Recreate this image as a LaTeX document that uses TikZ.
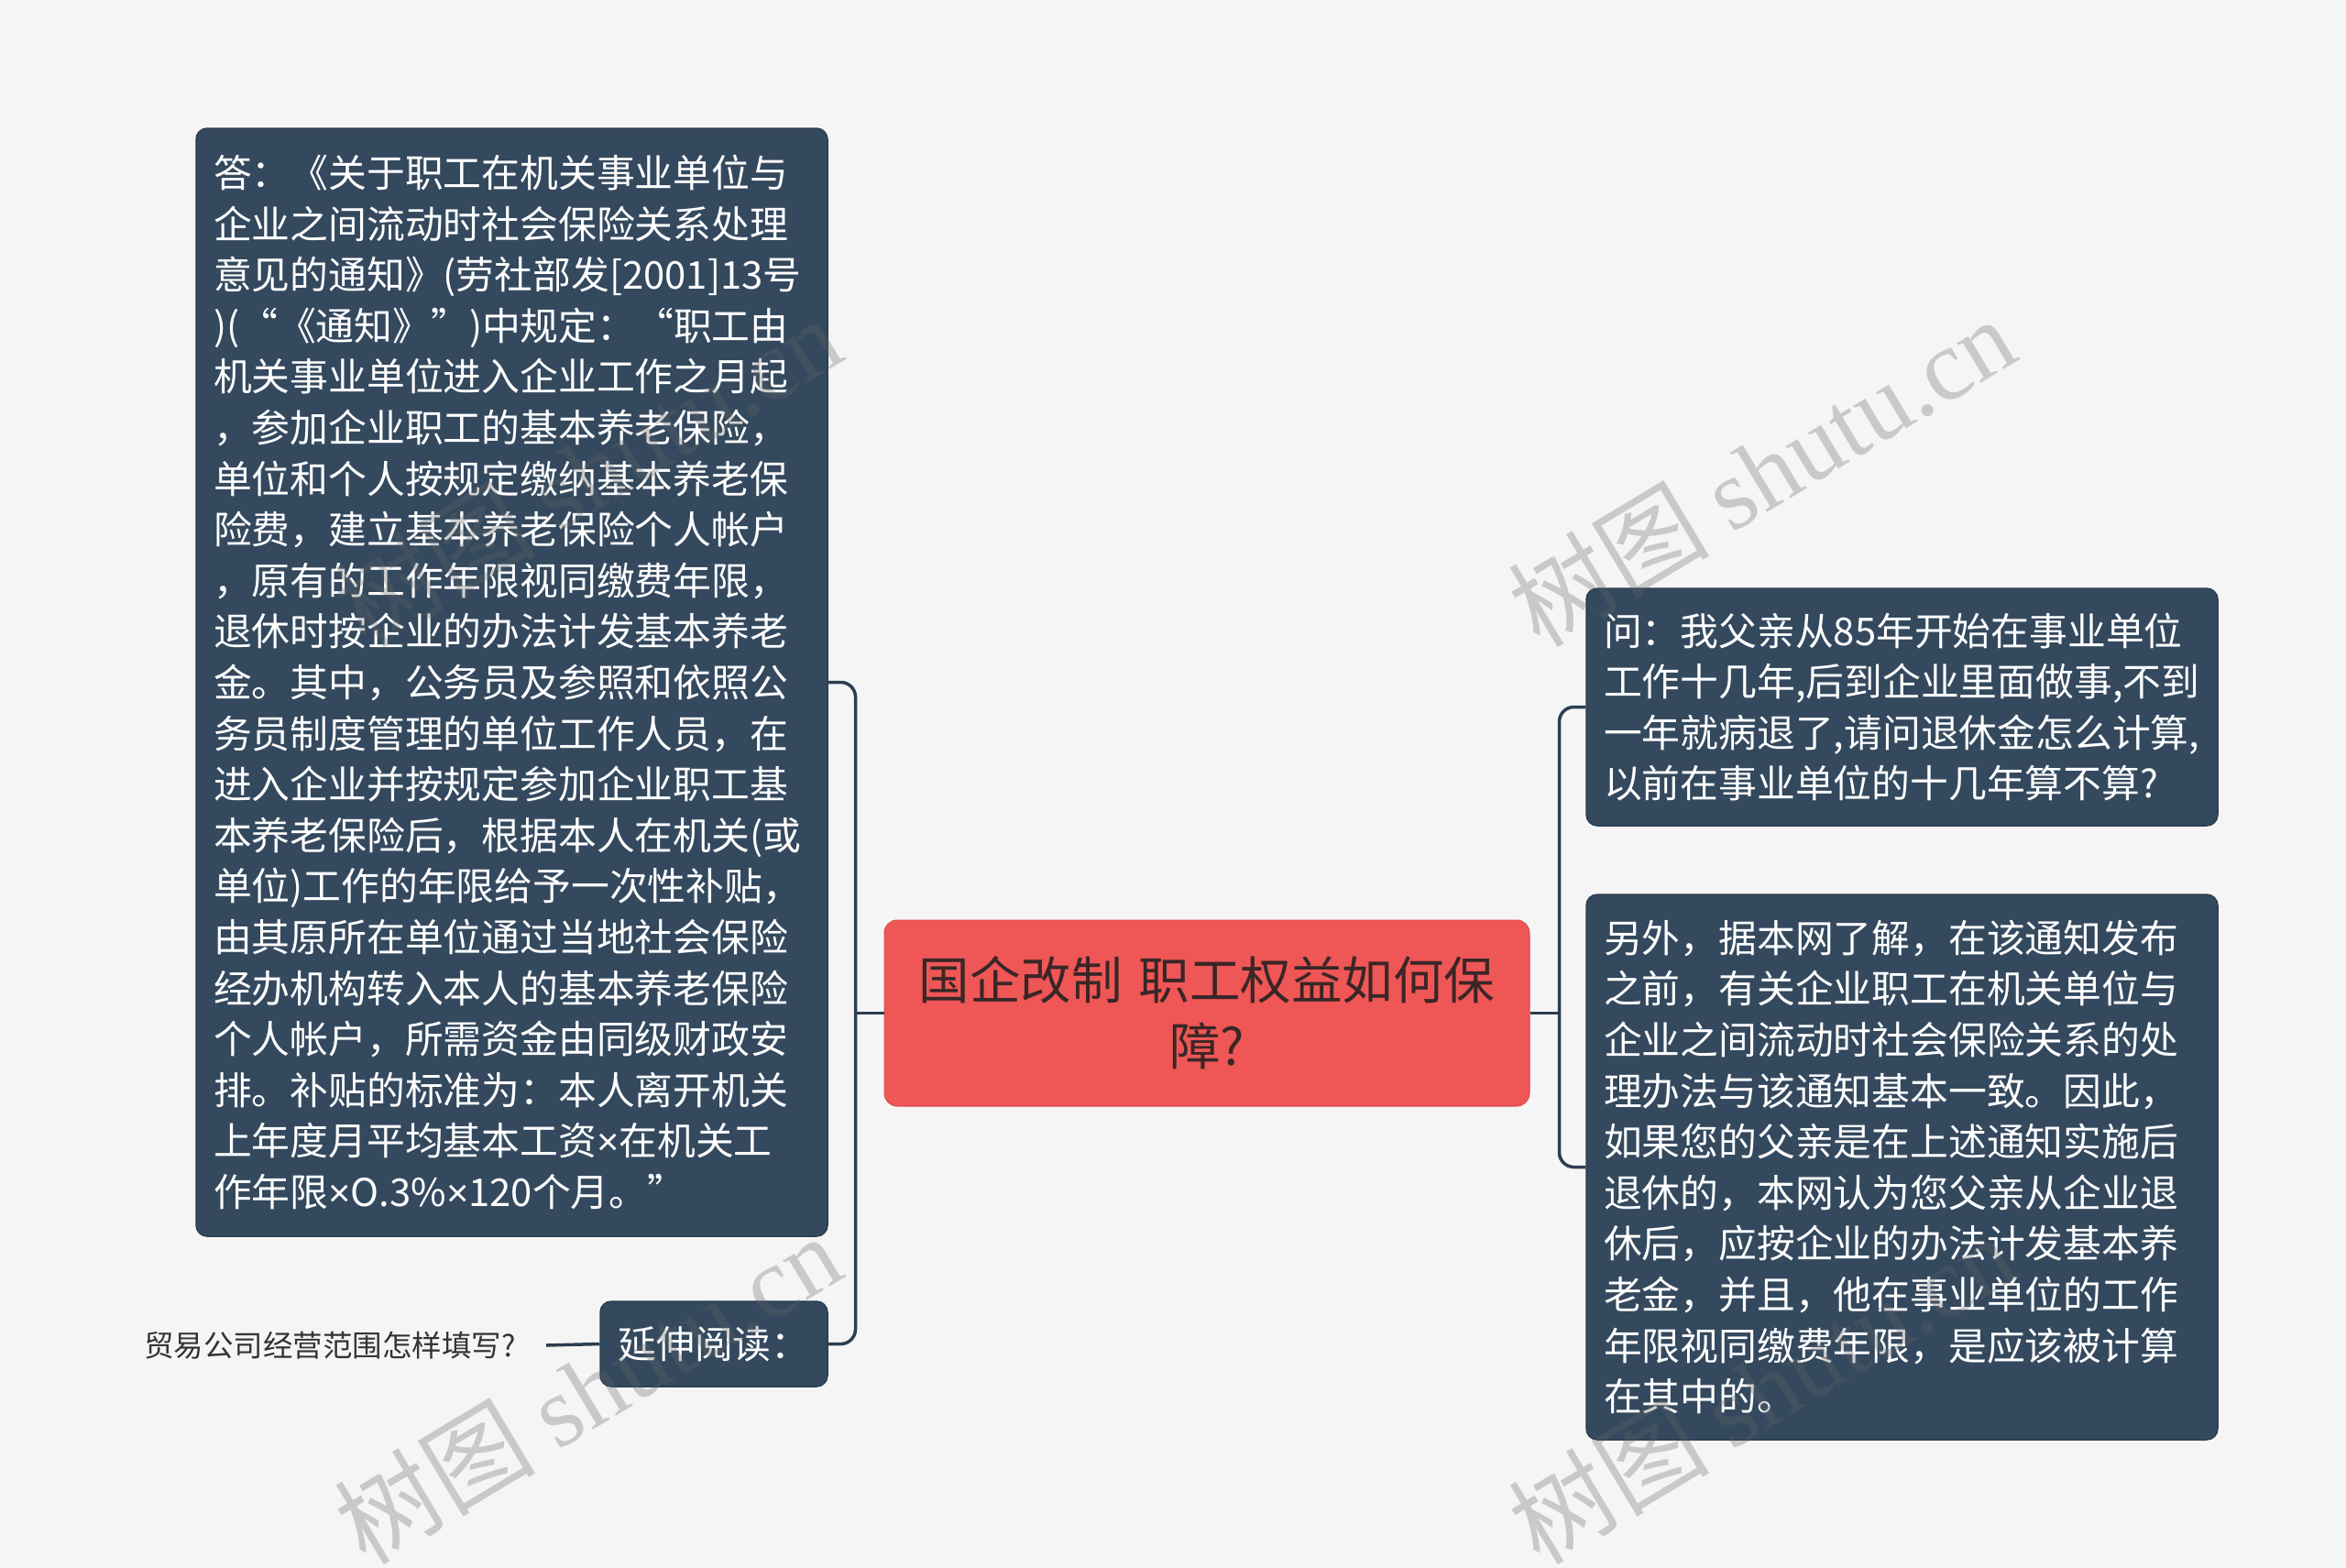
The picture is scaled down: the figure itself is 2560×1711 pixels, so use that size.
\documentclass[tikz,border=0pt]{standalone}
\usepackage{fontspec}
\setmainfont{Noto Sans CJK SC}
\newfontfamily\wmfont{Liberation Serif}
\newfontfamily\cjkfont{Noto Sans CJK SC}
\newfontfamily\latfont{Liberation Sans}
\newcommand{\mytimes}{{\latfont ×}}
\usetikzlibrary{calc}
\definecolor{bgc}{HTML}{F5F5F5}
\definecolor{boxc}{HTML}{34495E}
\definecolor{linec}{HTML}{2C3E50}
\definecolor{rootc}{HTML}{EF5656}
\definecolor{roottext}{HTML}{3A2626}
\definecolor{leaftext}{HTML}{333333}
\definecolor{wmc}{HTML}{646464}
\begin{document}
\begin{tikzpicture}[x=1pt,y=-1pt,
  box/.style={draw=linec, line width=1.5pt, fill=boxc, rounded corners=12pt, text=white,
    font=\fontsize{41.8}{55.6}\selectfont, align=left, inner xsep=19pt, inner ysep=0pt},
  rootbox/.style={draw=rootc!90!black, line width=1pt, fill=rootc, rounded corners=14pt, text=roottext,
    font=\fontsize{55.5}{72}\selectfont, align=center, inner sep=0pt},
  leafnode/.style={text=leaftext, font=\fontsize{32.5}{38}\selectfont, inner xsep=33pt, inner ysep=0pt},
  conn/.style={draw=linec, line width=3.5pt, rounded corners=16pt},
  wm/.style={text=wmc, text opacity=0.3, rotate=31, font=\fontsize{110}{110}\selectfont, inner sep=0pt}]
\useasboundingbox (0,0) rectangle (2560,1711);
\fill[bgc] (0,0) rectangle (2560,1711);

\node[rootbox, minimum width=704pt, minimum height=203pt, text width=660pt] (root) at (1317,1105.5)
  {国企改制 职工权益如何保\\障?};

\node[box, text width=651pt, minimum height=1209pt] (ans) at (558.5,744.5) {%
答：《关于职工在机关事业单位与\\
企业之间流动时社会保险关系处理\\
意见的通知》(劳社部发[2001]13号\\
)(“《通知》”)中规定：“职工由\\
机关事业单位进入企业工作之月起\\
，参加企业职工的基本养老保险，\\
单位和个人按规定缴纳基本养老保\\
险费，建立基本养老保险个人帐户\\
，原有的工作年限视同缴费年限，\\
退休时按企业的办法计发基本养老\\
金。其中，公务员及参照和依照公\\
务员制度管理的单位工作人员，在\\
进入企业并按规定参加企业职工基\\
本养老保险后，根据本人在机关(或\\
单位)工作的年限给予一次性补贴，\\
由其原所在单位通过当地社会保险\\
经办机构转入本人的基本养老保险\\
个人帐户，所需资金由同级财政安\\
排。补贴的标准为：本人离开机关\\
上年度月平均基本工资\mytimes 在机关工\\
作年限\mytimes O.3\%\mytimes 120个月。”};

\node[box, align=center, minimum width=248pt, minimum height=93pt] (ext) at (779,1466.5) {延伸阅读：};

\node[leafnode, anchor=east] (leaf) at (596,1468) {贸易公司经营范围怎样填写?};

\node[box, text width=651pt, minimum height=259pt] (q) at (2075.5,771.5) {%
问：我父亲从85年开始在事业单位\\
工作十几年,后到企业里面做事,不到\\
一年就病退了,请问退休金怎么计算,\\
以前在事业单位的十几年算不算?};

\node[box, text width=651pt, minimum height=595pt] (a2) at (2075.5,1273.5) {%
另外，据本网了解，在该通知发布\\
之前，有关企业职工在机关单位与\\
企业之间流动时社会保险关系的处\\
理办法与该通知基本一致。因此，\\
如果您的父亲是在上述通知实施后\\
退休的，本网认为您父亲从企业退\\
休后，应按企业的办法计发基本养\\
老金，并且，他在事业单位的工作\\
年限视同缴费年限，是应该被计算\\
在其中的。};

\coordinate (lj) at ($(root.west)+(-31,0)$);
\coordinate (rj) at ($(root.east)+(32,0)$);
\draw[conn] (ans.east) -| (lj) |- (ext.east);
\draw[conn] (root.west) -- (lj);
\draw[conn] (q.west) -| (rj) |- (a2.west);
\draw[conn] (root.east) -- (rj);
\draw[conn] (ext.west) -- (leaf.east);

\node[wm] (wm1) at (1922,514) {\cjkfont 树图\ \wmfont shutu.cn};
\node[wm] (wm2) at (641,514) {\cjkfont 树图\ \wmfont shutu.cn};
\node[wm] (wm3) at (641,1515) {\cjkfont 树图\ \wmfont shutu.cn};
\node[wm] (wm4) at (1922,1515) {\cjkfont 树图\ \wmfont shutu.cn};
\end{tikzpicture}
\end{document}
